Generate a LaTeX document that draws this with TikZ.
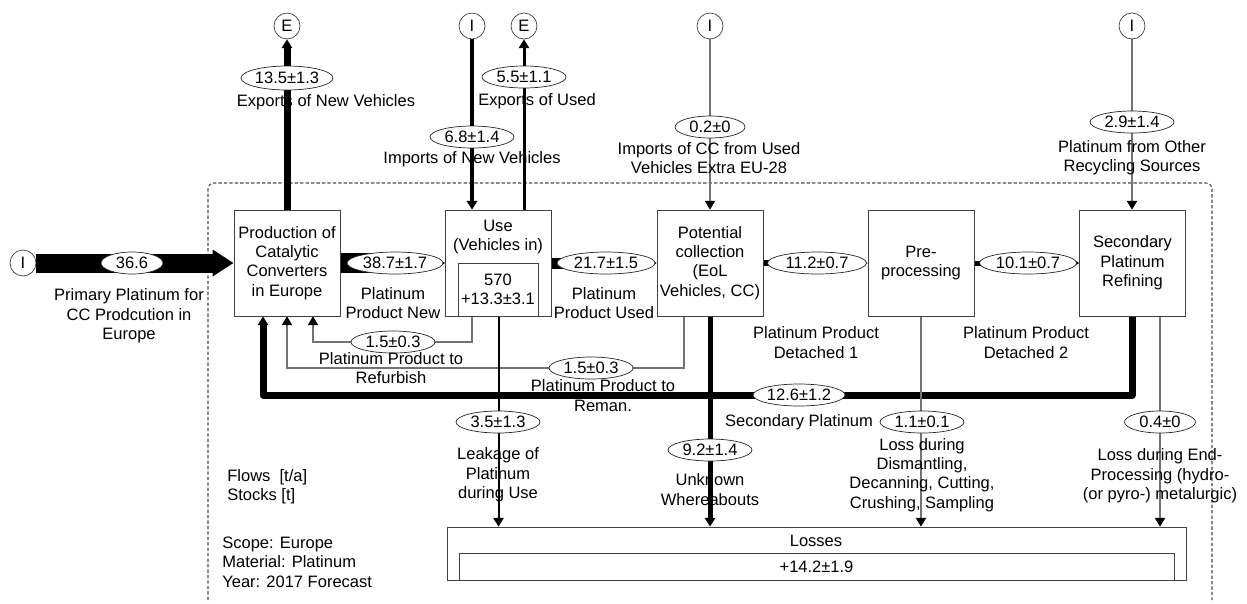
\documentclass[tikz,border=0pt]{standalone}
\usepackage{fontspec}
\setmainfont{Liberation Sans}
\usetikzlibrary{arrows.meta,shapes.geometric}
\pgfdeclarelayer{bg}
\pgfsetlayers{bg,main}
\tikzset{
  procbox/.style={draw=black!75, fill=white, minimum width=2.12cm, minimum height=2.12cm, align=center, inner sep=0pt},
  srcsink/.style={circle, draw=black!75, minimum size=0.52cm, inner sep=0pt},
  val/.style={ellipse, draw=black!85, fill=white, inner sep=0pt, minimum width=1.68cm, minimum height=0.44cm},
  lbl/.style={align=center, inner sep=0pt},
  flow/.style={line width=#1*0.569pt, black, line join=round},
  thinflow/.style={line width=0.6pt, black!55},
  endtip/.style={-{Triangle[length=5pt,width=5.8pt,color=black,fill=black]}},
}
\begin{document}
\begin{tikzpicture}[x=0.02cm, y=-0.02cm, font=\fontsize{9.4}{11}\selectfont]
        \useasboundingbox (0,0) rectangle (1247,603);
        \node[procbox] (prod_box) at (287,263) {Production of\\Catalytic\\Converters\\in Europe};
        \node[procbox] (use_box) at (498.5,263) {};
        \node[lbl] (use_txt) at (498,237) {Use\\(Vehicles in)};
        \node[draw=black!75, minimum width=1.6cm, minimum height=1.06cm, align=center, inner sep=0pt] (stock_box) at (498,289.5) {570\\+13.3±3.1};
        \node[procbox] (coll_box) at (710,263) {Potential\\collection\\(EoL\\Vehicles, CC)};
        \node[procbox] (pre_box) at (921,263) {Pre-\\processing};
        \node[procbox] (ref_box) at (1132.5,263) {Secondary\\Platinum\\Refining};
        \node[draw=black!75, minimum width=14.78cm, minimum height=1.06cm, inner sep=0pt] (loss_box) at (816.5,553.5) {};
        \node[lbl] (loss_txt) at (816,541) {Losses};
        \node[draw=black!75, minimum width=14.3cm, minimum height=0.54cm, inner sep=0pt] (loss_stock) at (816.5,566.5) {+14.2±1.9};
        \node[srcsink] (prim_src) at (23,263) {I};
        \node[srcsink] (expnew_snk) at (287,26) {E};
        \node[srcsink] (impnew_src) at (472,26) {I};
        \node[srcsink] (expused_snk) at (524,26) {E};
        \node[srcsink] (impcc_src) at (710,26) {I};
        \node[srcsink] (rec_src) at (1132,26) {I};
        \node[val, minimum width=1.24cm] (prim_val) at (132,263) {36.6};
        \node[val, minimum width=1.84cm, minimum height=0.48cm] (expnew_val) at (287,78) {13.5±1.3};
        \node[val] (impnew_val) at (472,137) {6.8±1.4};
        \node[val] (expused_val) at (524,77) {5.5±1.1};
        \node[val, minimum width=1.4cm] (impcc_val) at (710,127) {0.2±0};
        \node[val] (rec_val) at (1132,122) {2.9±1.4};
        \node[val, minimum width=1.92cm] (new_val) at (395,263) {38.7±1.7};
        \node[val, minimum width=1.96cm] (used_val) at (606,263) {21.7±1.5};
        \node[val, minimum width=1.98cm] (det1_val) at (817,263) {11.2±0.7};
        \node[val, minimum width=1.94cm] (det2_val) at (1028,263) {10.1±0.7};
        \node[val] (rf_val) at (393,342) {1.5±0.3};
        \node[val] (rm_val) at (591,368) {1.5±0.3};
        \node[val, minimum width=1.84cm] (sec_val) at (799,395) {12.6±1.2};
        \node[val] (leak_val) at (498,422) {3.5±1.3};
        \node[val] (unk_val) at (710,450) {9.2±1.4};
        \node[val] (pre_val) at (922,422) {1.1±0.1};
        \node[val, minimum width=1.42cm] (end_val) at (1160,422) {0.4±0};
        \node[lbl] (prim_lbl) at (129,316) {Primary Platinum for\\CC Prodcution in\\Europe};
        \node[lbl] (expnew_lbl) at (326,102) {Exports of New Vehicles};
        \node[lbl] (impnew_lbl) at (472,159) {Imports of New Vehicles};
        \node[lbl] (expused_lbl) at (537,101) {Exports of Used};
        \node[lbl] (impcc_lbl) at (709,158) {Imports of CC from Used\\Vehicles Extra EU-28};
        \node[lbl] (rec_lbl) at (1132,157.5) {Platinum from Other\\Recycling Sources};
        \node[lbl] (new_lbl) at (393,303) {Platinum\\Product New};
        \node[lbl] (used_lbl) at (604,303) {Platinum\\Product Used};
        \node[lbl] (det1_lbl) at (816,342.5) {Platinum Product\\Detached 1};
        \node[lbl] (det2_lbl) at (1026,342.5) {Platinum Product\\Detached 2};
        \node[lbl] (rf_lbl) at (391,368) {Platinum Product to\\Refurbish};
        \node[lbl] (rm_lbl) at (603,395.5) {Platinum Product to\\Reman.};
        \node[lbl] (sec_lbl) at (799,422) {Secondary Platinum};
        \node[lbl] (leak_lbl) at (498,475) {Leakage of\\Platinum\\during Use};
        \node[lbl] (unk_lbl) at (710,489.5) {Unknown\\Whereabouts};
        \node[lbl] (pre_lbl) at (922,475) {Loss during\\Dismantling,\\Decanning, Cutting,\\Crushing, Sampling};
        \node[lbl] (end_lbl) at (1160,476) {Loss during End-\\Processing (hydro-\\(or pyro-) metalurgic)};
        \node[lbl, align=left, anchor=west] (unit_lbl) at (227,486.5) {Flows\ \ [t/a]\\Stocks [t]};
        \node[lbl, align=left, anchor=west] (scope_lbl) at (222,562) {Scope: Europe\\Material: Platinum\\Year: 2017 Forecast};
        \coordinate (RF_a_pnt) at (472,342);
        \coordinate (RF_b_pnt) at (313,342);
        \coordinate (RM_a_pnt) at (684,368);
        \coordinate (RM_b_pnt) at (287,368);
        \coordinate (SP_a_pnt) at (1132,395);
        \coordinate (SP_b_pnt) at (263,395);
        \begin{pgfonlayer}{bg}
        \draw[black!70, line width=0.6pt, dash pattern=on 1.9pt off 1.2pt, rounded corners=3.4pt] (208,600) -- (208,183) -- (1212,183) -- (1212,600);
        \draw[flow=19, -{Triangle[length=12pt,width=14.5pt]}] (prim_src.east) -- (prod_box.west);
        \draw[flow=7, endtip] (prod_box.north) -- (expnew_snk.south);
        \draw[flow=3.5, endtip] (impnew_src.south) -- (impnew_src |- use_box.north);
        \draw[flow=3, endtip] (expused_snk |- use_box.north) -- (expused_snk.south);
        \draw[thinflow, endtip] (impcc_src.south) -- (coll_box.north);
        \draw[flow=1.5, black!55, endtip] (rec_src.south) -- (rec_src |- ref_box.north);
        \draw[flow=20] (prod_box.east) -- (new_val.center);
        \draw[thinflow, black, endtip] (new_val.east) -- (use_box.west);
        \draw[flow=11] (use_box.east) -- (used_val.center);
        \draw[thinflow, black, endtip] (used_val.east) -- (coll_box.west);
        \draw[flow=6] (coll_box.east) -- (det1_val.center);
        \draw[thinflow, black, endtip] (det1_val.east) -- (pre_box.west);
        \draw[flow=5] (pre_box.east) -- (det2_val.center);
        \draw[thinflow, black, endtip] (det2_val.east) -- (ref_box.west);
        \draw[thinflow, endtip] (use_box.south -| RF_a_pnt) -- (RF_a_pnt) -- (RF_b_pnt) -- (RF_b_pnt |- prod_box.south);
        \draw[thinflow, endtip] (coll_box.south -| RM_a_pnt) -- (RM_a_pnt) -- (RM_b_pnt) -- (prod_box.south);
        \draw[flow=7, endtip] (ref_box.south -| SP_a_pnt) -- (SP_a_pnt) -- (SP_b_pnt) -- (SP_b_pnt |- prod_box.south);
        \draw[flow=2, endtip] (use_box.south) -- (use_box.south |- loss_box.north);
        \draw[flow=5, endtip] (coll_box.south) -- (coll_box.south |- loss_box.north);
        \draw[thinflow, endtip] (pre_box.south) -- (pre_box.south |- loss_box.north);
        \draw[thinflow, endtip] (ref_box.south -| end_val) -- (loss_box.north -| end_val);
        \end{pgfonlayer}
\end{tikzpicture}
\end{document}
